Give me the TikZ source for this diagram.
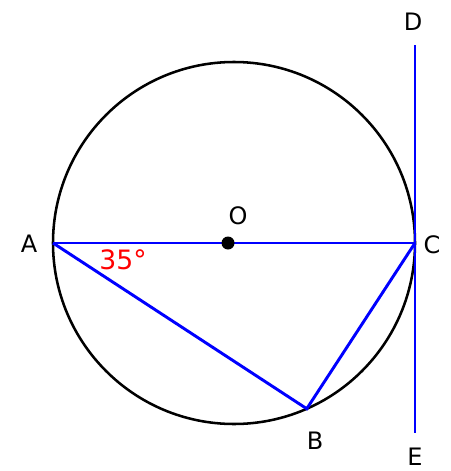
\documentclass[tikz,border=0pt]{standalone}
\usepackage{fontspec}
\setmainfont{DejaVu Sans}
\usepackage{tikz}
\usetikzlibrary{positioning,calc}

\begin{document}
\begin{tikzpicture}[
  x=0.75pt, y=-0.75pt,
  seg/.style = {blue, line width=2.2pt},
  lbl/.style = {font=\fontsize{18}{20}\selectfont},
  ang/.style = {red, font=\fontsize{20}{22}\selectfont}
]
\useasboundingbox (0,0) rectangle (450,471);

\coordinate (centre) at (234,243);
\draw[line width=1.9pt] (centre) circle (181);

\coordinate (A) at (53,243);
\coordinate (C) at (415,243);
\coordinate (B) at ($(centre)+(66.3:181)$);
\coordinate (D) at (415,45);
\coordinate (E) at (415,433);

\draw[seg] (A) -- (C);
\draw[seg] (A) -- (B) -- (C);
\draw[seg] (D) -- (E);

\fill (228,243) circle (6.5) coordinate (dotO);

\node[lbl] (labA) at (29,244) {A};
\node[lbl] (labO) at (238,216) {O};
\node[lbl] (labC) at (432,245) {C};
\node[lbl] (labB) at (315,441) {B};
\node[lbl] (labD) at (413,22) {D};
\node[lbl] (labE) at (415,457) {E};
\node[ang] (angA) at (123,260) {35°};

\end{tikzpicture}
\end{document}
